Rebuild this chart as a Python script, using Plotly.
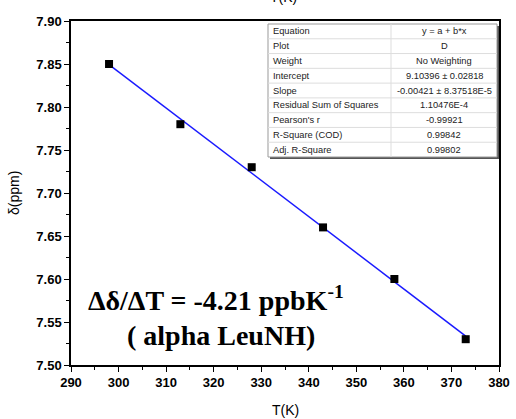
import plotly.graph_objects as go

# Data
temps = [298, 313, 328, 343, 358, 373]
shifts = [7.85, 7.78, 7.73, 7.66, 7.60, 7.53]
intercept = 9.10396
slope = -0.00421
fit_x = [298, 373]
fit_y = [intercept + slope * t for t in fit_x]

table_labels = ["Equation", "Plot", "Weight", "Intercept", "Slope",
                "Residual Sum of Squares", "Pearson's r", "R-Square (COD)", "Adj. R-Square"]
table_values = ["y = a + b*x", "D", "No Weighting", "9.10396 ± 0.02818",
                "-0.00421 ± 8.37518E-5", "1.10476E-4", "-0.99921", "0.99842", "0.99802"]

x_ticks = [290, 300, 310, 320, 330, 340, 350, 360, 370, 380]
y_ticks = [7.50, 7.55, 7.60, 7.65, 7.70, 7.75, 7.80, 7.85, 7.90]
x_title = "T(K)"
y_title = "δ(ppm)"

fig = go.Figure()
fig.add_trace(go.Scatter(x=fit_x, y=fit_y, mode="lines",
                         line=dict(color="#1a1aff", width=1.5), showlegend=False))
fig.add_trace(go.Scatter(x=temps, y=shifts, mode="markers",
                         marker=dict(symbol="square", size=8, color="black"), showlegend=False))

W, H = 516, 419
L, R, T, B = 71, 17, 21, 54
pw, ph = W - L - R, H - T - B

def px(xp):
    return (xp - L) / pw

def py(yp):
    return 1 - (yp - T) / ph

# Table geometry (pixels)
tx0, tx1, tdiv = 268, 497, 391
ty0, ty1 = 24, 157
n = len(table_labels)
rh = (ty1 - ty0) / n

shapes = []
shapes.append(dict(type="rect", xref="paper", yref="paper",
                   x0=px(tx0 + 2), x1=px(tx1 + 2), y0=py(ty1 + 2), y1=py(ty0 + 2),
                   fillcolor="#555555", line=dict(width=0), layer="above"))
shapes.append(dict(type="rect", xref="paper", yref="paper",
                   x0=px(tx0), x1=px(tx1), y0=py(ty1), y1=py(ty0),
                   fillcolor="white", line=dict(color="#999999", width=1), layer="above"))
for i in range(1, n):
    yy = ty0 + i * rh
    shapes.append(dict(type="line", xref="paper", yref="paper",
                       x0=px(tx0), x1=px(tx1), y0=py(yy), y1=py(yy),
                       line=dict(color="#dddddd", width=1), layer="above"))
shapes.append(dict(type="line", xref="paper", yref="paper",
                   x0=px(tdiv), x1=px(tdiv), y0=py(ty0), y1=py(ty1),
                   line=dict(color="#dddddd", width=1), layer="above"))

annotations = []
tfont = dict(family="Liberation Sans, Arial", size=9.3, color="#222222")
for i, (lab, val) in enumerate(zip(table_labels, table_values)):
    yc = ty0 + (i + 0.5) * rh
    annotations.append(dict(xref="paper", yref="paper", x=px(tx0 + 3), y=py(yc),
                            xanchor="left", yanchor="middle", text=lab,
                            showarrow=False, font=tfont))
    annotations.append(dict(xref="paper", yref="paper", x=px((tdiv + tx1) / 2), y=py(yc),
                            xanchor="center", yanchor="middle", text=val,
                            showarrow=False, font=tfont))

bigfont = dict(family="Liberation Serif, Times New Roman", size=28, color="black", weight="bold")
annotations.append(dict(x=320.5, y=7.5775, xref="x", yref="y",
                        text="Δδ/ΔT = -4.21 ppbK<sup>-1</sup>", showarrow=False,
                        font=bigfont, xanchor="center", yanchor="middle"))
annotations.append(dict(x=321.5, y=7.5345, xref="x", yref="y",
                        text="( alpha LeuNH)", showarrow=False,
                        font=bigfont, xanchor="center", yanchor="middle"))

title_font = dict(family="Liberation Sans, Arial", size=14, color="black")
# cropped top title (only its lower part is visible in the reference)
annotations.append(dict(xref="paper", yref="paper", x=px(283), y=py(7),
                        xanchor="center", yanchor="bottom", text=x_title, showarrow=False,
                        font=title_font))
# axis titles
annotations.append(dict(xref="paper", yref="paper", x=px(285), y=py(410),
                        xanchor="center", yanchor="middle", text=x_title, showarrow=False,
                        font=title_font))
annotations.append(dict(xref="paper", yref="paper", x=px(14), y=py(193),
                        xanchor="center", yanchor="middle", text=y_title, showarrow=False,
                        textangle=-90, font=title_font))

axis_common = dict(showline=True, linecolor="black", linewidth=1.5, mirror=True,
                   ticks="outside", ticklen=5, tickwidth=1.2, tickcolor="black",
                   showgrid=False, zeroline=False, automargin=False,
                   tickfont=dict(family="Liberation Sans, Arial", size=13, color="black", weight="bold"))

fig.update_layout(
    width=W, height=H,
    margin=dict(l=L, r=R, t=T, b=B, autoexpand=False),
    paper_bgcolor="white", plot_bgcolor="white",
    shapes=shapes, annotations=annotations,
    xaxis=dict(range=[290, 380], tickvals=x_ticks,
               minor=dict(ticks="outside", ticklen=3, tickcolor="black", dtick=5, tick0=290),
               **axis_common),
    yaxis=dict(range=[7.50, 7.90], tickvals=y_ticks, tickformat=".2f",
               minor=dict(ticks="outside", ticklen=3, tickcolor="black", dtick=0.025, tick0=7.5),
               **axis_common),
)

fig.write_html("out.html", config={"displayModeBar": False},
               post_script="document.body.style.margin='0';document.body.style.overflow='hidden';")
